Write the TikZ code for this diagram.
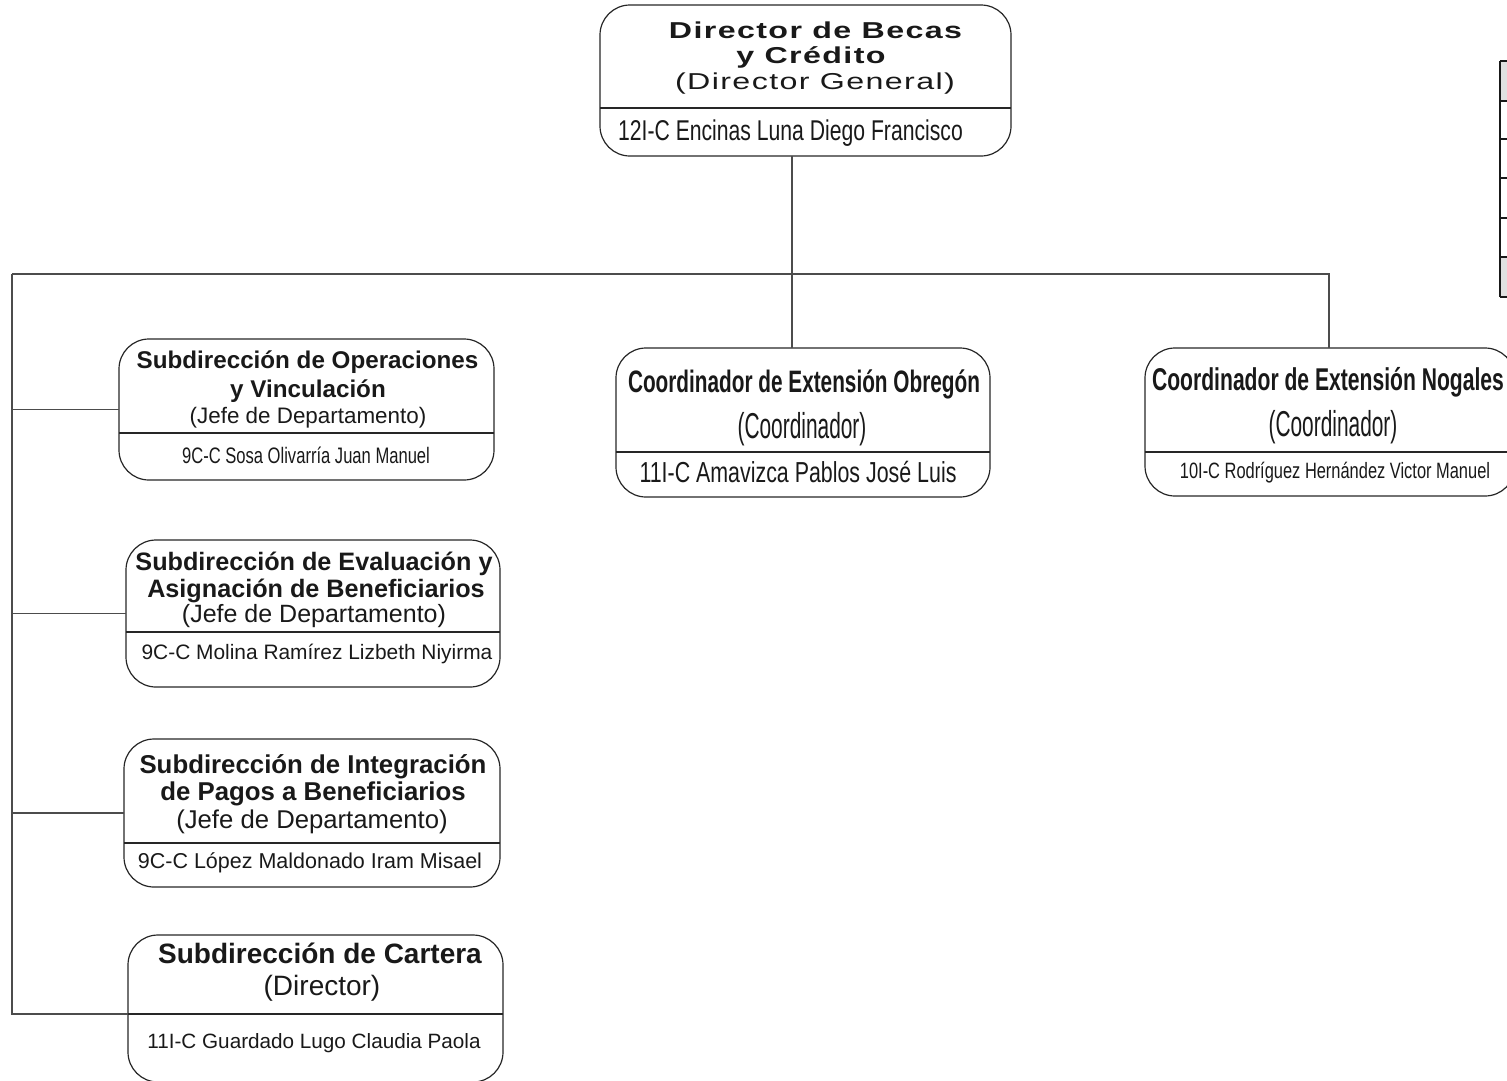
\documentclass[tikz,border=0pt]{standalone}
\usepackage{fontspec}
\setmainfont{Liberation Sans}
\newfontfamily\widefont[FakeStretch=1.4,LetterSpace=6]{Liberation Sans}
\newfontfamily\condfont[FakeStretch=0.74]{Liberation Sans}
\newfontfamily\cotitlefont[FakeStretch=0.67]{Liberation Sans}
\newfontfamily\rolefont[FakeStretch=0.58]{Liberation Sans}
\newcommand{\fs}[1]{\fontsize{#1}{#1}\selectfont}

\tikzset{
  box/.style={draw=black!85, line width=1.2pt, rounded corners=30pt, inner sep=0pt, outer sep=0pt},
  rule/.style={draw=black!85, line width=1.2pt},
  link/.style={draw=black!70, line width=1.2pt},
  txt/.style={anchor=base, inner sep=0pt, text=black!90}
}

\begin{document}
\begin{tikzpicture}[x=1pt,y=-1pt]
\useasboundingbox (0,0) rectangle (1507,1080);

% Director
\node[box, minimum width=411, minimum height=151] (dir) at (805.5,80.5) {};
\coordinate (dd) at (0,108);
\draw[rule] (dir.west |- dd) -- (dir.east |- dd);
\node[txt, font=\widefont\bfseries\fs{23}] (dir1) at (815.5,38) {Director de Becas};
\node[txt, font=\widefont\bfseries\fs{23}] (dir2) at (811,63) {y Crédito};
\node[txt, font=\widefont\fs{23}] (dir3) at (815,89) {(Director General)};
\node[txt, font=\condfont\fs{28.6}] (dir4) at (790.5,140) {12I-C Encinas Luna Diego Francisco};

% Coordinadores
\node[box, minimum width=374, minimum height=149] (coo1) at (803,422.5) {};
\coordinate (cd) at (0,452);
\draw[rule] (coo1.west |- cd) -- (coo1.east |- cd);
\node[txt, font=\cotitlefont\bfseries\fs{31}] (coo1a) at (804,392) {Coordinador de Extensión Obregón};
\node[txt, font=\rolefont\fs{36}] (coo1b) at (802,438) {(Coordinador)};
\node[txt, font=\condfont\fs{28.9}] (coo1c) at (798,482) {11I-C Amavizca Pablos José Luis};

\node[box, minimum width=370, minimum height=148] (coo2) at (1330,422) {};
\draw[rule] (coo2.west |- cd) -- (coo2.east |- cd);
\node[txt, font=\cotitlefont\bfseries\fs{31.5}] (coo2a) at (1328,390) {Coordinador de Extensión Nogales};
\node[txt, font=\rolefont\fs{36}] (coo2b) at (1333,436) {(Coordinador)};
\node[txt, font=\condfont\fs{22.2}] (coo2c) at (1335,478) {10I-C Rodríguez Hernández Victor Manuel};

% Subdirecciones
\node[box, minimum width=375, minimum height=141] (sub1) at (306.5,409.5) {};
\coordinate (sd1) at (0,433);
\draw[rule] (sub1.west |- sd1) -- (sub1.east |- sd1);
\node[txt, font=\bfseries\fs{24.2}] (sub1a) at (307.5,368) {Subdirección de Operaciones};
\node[txt, font=\bfseries\fs{24.2}] (sub1b) at (308,397) {y Vinculación};
\node[txt, font=\fs{22.4}] (sub1c) at (308,423) {(Jefe de Departamento)};
\node[txt, font=\condfont\fs{22.4}] (sub1d) at (306,463) {9C-C Sosa Olivarría Juan Manuel};

\node[box, minimum width=374, minimum height=147] (sub2) at (313,613.5) {};
\coordinate (sd2) at (0,632);
\draw[rule] (sub2.west |- sd2) -- (sub2.east |- sd2);
\node[txt, font=\bfseries\fs{25.2}] (sub2a) at (314,570) {Subdirección de Evaluación y};
\node[txt, font=\bfseries\fs{25.2}] (sub2b) at (316,597) {Asignación de Beneficiarios};
\node[txt, font=\fs{25}] (sub2c) at (314,622) {(Jefe de Departamento)};
\node[txt, font=\fs{20.9}] (sub2d) at (317,659) {9C-C Molina Ramírez Lizbeth Niyirma};

\node[box, minimum width=376, minimum height=148] (sub3) at (312,813) {};
\coordinate (sd3) at (0,843);
\draw[rule] (sub3.west |- sd3) -- (sub3.east |- sd3);
\node[txt, font=\bfseries\fs{25.8}] (sub3a) at (313,773) {Subdirección de Integración};
\node[txt, font=\bfseries\fs{25.8}] (sub3b) at (313,800) {de Pagos a Beneficiarios};
\node[txt, font=\fs{25.7}] (sub3c) at (312,828) {(Jefe de Departamento)};
\node[txt, font=\fs{21.5}] (sub3d) at (310,868) {9C-C López Maldonado Iram Misael};

\node[box, minimum width=375, minimum height=147] (sub4) at (315.5,1008.5) {};
\coordinate (sd4) at (0,1014);
\draw[rule] (sub4.west |- sd4) -- (sub4.east |- sd4);
\node[txt, font=\bfseries\fs{28}] (sub4a) at (320,963) {Subdirección de Cartera};
\node[txt, font=\fs{28}] (sub4b) at (322,995) {(Director)};
\node[txt, font=\fs{20.7}] (sub4c) at (314,1048) {11I-C Guardado Lugo Claudia Paola};

% lineas
\coordinate (bl) at (12,274);
\coordinate (bm) at (792,274);
\coordinate (br) at (1329,274);
\draw[link] (dir.south -| bm) -- (coo1.north -| bm);
\draw[link] (bl) -- (br) -- (coo2.north -| br);
\draw[link] (bl) |- (sub4.west |- sd4);
\draw[link] (bl |- sub1.west) -- (sub1.west);
\draw[link] (bl |- sub2.west) -- (sub2.west);
\draw[link] (bl |- sub3.west) -- (sub3.west);

% tabla
\fill[black!12] (1500,61) rectangle (1520,101);
\fill[black!12] (1500,257) rectangle (1520,297);
\foreach \y in {61,101,139,178,218,257,297}
  \draw[line width=2pt, black!90] (1500,\y) -- (1520,\y);
\draw[line width=2.5pt, black!90] (1500,61) -- (1500,297);

\end{tikzpicture}
\end{document}
